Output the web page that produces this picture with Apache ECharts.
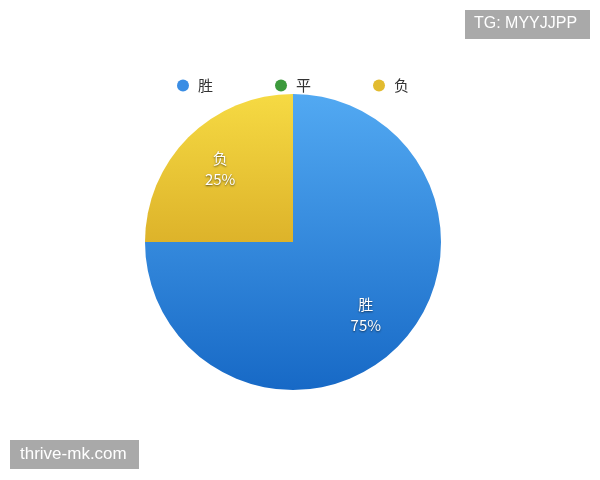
<!DOCTYPE html>
<html>
<head>
<meta charset="utf-8">
<script src="https://cdn.jsdelivr.net/npm/echarts@6/dist/echarts.min.js"></script>
<style>html,body{margin:0;padding:0;background:#fff;}#c{width:600px;height:480px;}</style>
</head>
<body>
<div id="c"></div>
<script>
const categories = ['胜', '平', '负'];
const values = [75, 0, 25];
const legendColors = ['#3a8de4', '#3c9a3c', '#e2bb2f'];
const gradTop = ['#52a9f2', '#4caf50', '#f6da43'];
const gradBottom = ['#1769c6', '#2e8b2e', '#ddb32a'];

const chart = echarts.init(document.getElementById('c'));
const mainData = categories.map((n, i) => ({
  name: n, value: values[i],
  itemStyle: {
    color: new echarts.graphic.LinearGradient(0, 0, 0, 1, [
      {offset: 0, color: gradTop[i]}, {offset: 1, color: gradBottom[i]}
    ])
  }
}));
const labelData = categories.map((n, i) => ({
  name: n, value: values[i],
  label: {show: values[i] > 0}
}));

chart.setOption({
  animation: false,
  legend: {
    top: 73,
    left: 172,
    icon: 'circle',
    itemWidth: 20,
    itemHeight: 12,
    itemGap: 62,
    textStyle: {fontSize: 15, color: '#333', fontFamily: 'Noto Sans CJK SC'},
    data: categories.map((n, i) => ({name: n, itemStyle: {color: legendColors[i]}}))
  },
  graphic: [
    {type: 'rect', left: 465, top: 10, shape: {width: 125, height: 29}, style: {fill: '#a9a9a9'}},
    {type: 'text', left: 474, top: 16, style: {text: 'TG: MYYJJPP', fill: '#fff', fontSize: 16, fontFamily: 'Liberation Sans'}},
    {type: 'rect', left: 10, top: 440, shape: {width: 129, height: 29}, style: {fill: '#a9a9a9'}},
    {type: 'text', left: 20, top: 446, style: {text: 'thrive-mk.com', fill: '#fff', fontSize: 17, fontFamily: 'Liberation Sans'}}
  ],
  series: [
    {
      type: 'pie',
      center: [293, 242],
      radius: [0, 148],
      startAngle: 90,
      silent: true,
      label: {show: false},
      labelLine: {show: false},
      data: mainData
    },
    {
      type: 'pie',
      center: [293, 242],
      radius: [52, 148],
      startAngle: 90,
      silent: true,
      itemStyle: {color: 'rgba(0,0,0,0)'},
      label: {
        show: true,
        position: 'inside',
        formatter: '{b}\n{d}%',
        color: '#fff',
        fontSize: 15,
        lineHeight: 21,
        fontFamily: 'Noto Sans CJK SC',
        textShadowColor: 'rgba(0,0,0,0.6)',
        textShadowBlur: 2,
        textShadowOffsetY: 1
      },
      labelLine: {show: false},
      data: labelData
    }
  ]
});
</script>
</body>
</html>
